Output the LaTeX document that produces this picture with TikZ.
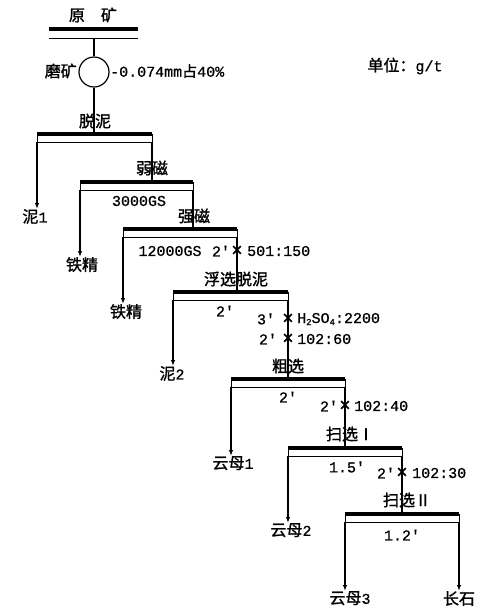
\documentclass[tikz,border=0pt]{standalone}
\usepackage{fontspec}
\setmainfont{Liberation Mono}[FakeBold=0.8]
\newfontfamily\cjk{Noto Sans CJK SC}[FakeBold=1.4]
\newfontfamily\monof{Liberation Mono}[FakeBold=0.8]
\usetikzlibrary{arrows.meta}
\newcommand\pr{\textquotesingle}
\newcommand\mystage[4]{%
  \coordinate (#1L) at (#2,#4);
  \coordinate (#1R) at (#3,#4);
  \coordinate (#1l) at (#2,{#4+8});
  \coordinate (#1r) at (#3,{#4+8});
  \draw[boxline] (#1L) rectangle (#1r);
  \draw[bar] (#1L) -- (#1R);
}
\begin{document}
\begin{tikzpicture}[x=1pt,y=-1pt,
  bar/.style={line width=3.5pt},
  boxline/.style={line width=0.8pt},
  flow/.style={line width=1.3pt},
  tip/.style={-{Latex[length=6pt,width=4.5pt]}},
  lab/.style={inner sep=0pt,font=\cjk\fontsize{16}{18}\selectfont},
  num/.style={inner sep=0pt,font=\fontsize{15}{17}\selectfont},
  cross/.style={inner sep=0pt,font=\fontsize{19}{19}\selectfont},
]
\useasboundingbox (0,0) rectangle (498,614);
% feed
\node[lab] (feed) at (93,15) {原\quad 矿};
\coordinate (F1) at (49,29);
\coordinate (F2) at (138,29);
\coordinate (F3) at (49,38);
\coordinate (F4) at (138,38);
\coordinate (F5) at (94,38);
\draw[bar] (F1) -- (F2);
\draw[boxline] (F3) -- (F4);
\node[circle,draw,line width=1.2pt,minimum size=30pt,inner sep=0pt] (mill) at (94,72) {};
\node[lab,anchor=east] (grind) at (77,71) {磨矿};
\node[num,anchor=west] (size) at (110,71) {-0.074mm{\cjk 占}40\%};
\node[lab] (unit) at (405,66) {单位：{\monof\fontsize{15}{17}\selectfont g/t}};
\draw[flow] (F5) -- (mill.north);
% stages
\mystage{A}{37}{152}{134}
\mystage{B}{80}{193}{182}
\mystage{C}{123}{237}{229}
\mystage{D}{173}{288}{292}
\mystage{E}{231}{345}{379}
\mystage{G}{288}{402}{448}
\mystage{H}{345}{459}{514}
\draw[flow] (mill.south) -- (mill.south |- AL);
% stage labels
\node[lab] (tA) at (95,121) {脱泥};
\node[lab] (tB) at (152,168) {弱磁};
\node[lab] (tC) at (194,216) {强磁};
\node[lab] (tD) at (236,279) {浮选脱泥};
\node[lab] (tE) at (288,366) {粗选};
\node[lab] (tG) at (350,434) {扫选Ⅰ};
\node[lab] (tH) at (407,500) {扫选Ⅱ};
% products
\node[lab,anchor=north] (p1) at (35,209) {泥{\monof\fontsize{15}{17}\selectfont 1}};
\node[lab,anchor=north] (p2) at (82,257) {铁精};
\node[lab,anchor=north] (p3) at (126,304) {铁精};
\node[lab,anchor=north] (p4) at (172,366) {泥{\monof\fontsize{15}{17}\selectfont 2}};
\node[lab,anchor=north] (p5) at (233,456) {云母{\monof\fontsize{15}{17}\selectfont 1}};
\node[lab,anchor=north] (p6) at (291,523) {云母{\monof\fontsize{15}{17}\selectfont 2}};
\node[lab,anchor=north] (p7) at (350,591) {云母{\monof\fontsize{15}{17}\selectfont 3}};
\node[lab,anchor=north] (p8) at (459,591) {长石};
\draw[flow,tip] (Al) -- (Al |- p1.north);
\draw[flow,tip] (Bl) -- (Bl |- p2.north);
\draw[flow,tip] (Cl) -- (Cl |- p3.north);
\draw[flow,tip] (Dl) -- (Dl |- p4.north);
\draw[flow,tip] (El) -- (El |- p5.north);
\draw[flow,tip] (Gl) -- (Gl |- p6.north);
\draw[flow,tip] (Hl) -- (Hl |- p7.north);
\draw[flow,tip] (Hr) -- (Hr |- p8.north);
% tailings to next stage
\draw[flow] (Ar) -- (Ar |- BL);
\draw[flow] (Br) -- (Br |- CL);
\draw[flow] (Cr) -- (Cr |- DL);
\draw[flow] (Dr) -- (Dr |- EL);
\draw[flow] (Er) -- (Er |- GL);
\draw[flow] (Gr) -- (Gr |- HL);
% conditions
\node[num] (cB) at (139,201) {3000GS};
\node[num] (cC) at (170,251) {12000GS};
\node[num] (tC1) at (221,251) {2\pr};
\node[cross] (xC1) at (237,251) {×};
\node[num,anchor=west] (rC1) at (247,251) {501:150};
\node[num] (tD0) at (225,311) {2\pr};
\node[num] (tD1) at (266,319) {3\pr};
\node[cross] (xD1) at (288,319) {×};
\node[num,anchor=west] (rD1) at (297,319) {H\raisebox{-2pt}{\fontsize{9}{9}\selectfont 2}SO\raisebox{-2pt}{\fontsize{9}{9}\selectfont 4}:2200};
\node[num] (tD2) at (268,339) {2\pr};
\node[cross] (xD2) at (288,339) {×};
\node[num,anchor=west] (rD2) at (297,339) {102:60};
\node[num] (tE0) at (288,397) {2\pr};
\node[num] (tE1) at (329,406) {2\pr};
\node[cross] (xE1) at (345,406) {×};
\node[num,anchor=west] (rE1) at (354,406) {102:40};
\node[num] (tG0) at (347,467) {1.5\pr};
\node[num] (tG1) at (386,473) {2\pr};
\node[cross] (xG1) at (402,473) {×};
\node[num,anchor=west] (rG1) at (412,473) {102:30};
\node[num] (tH0) at (402,535) {1.2\pr};
\end{tikzpicture}
\end{document}
